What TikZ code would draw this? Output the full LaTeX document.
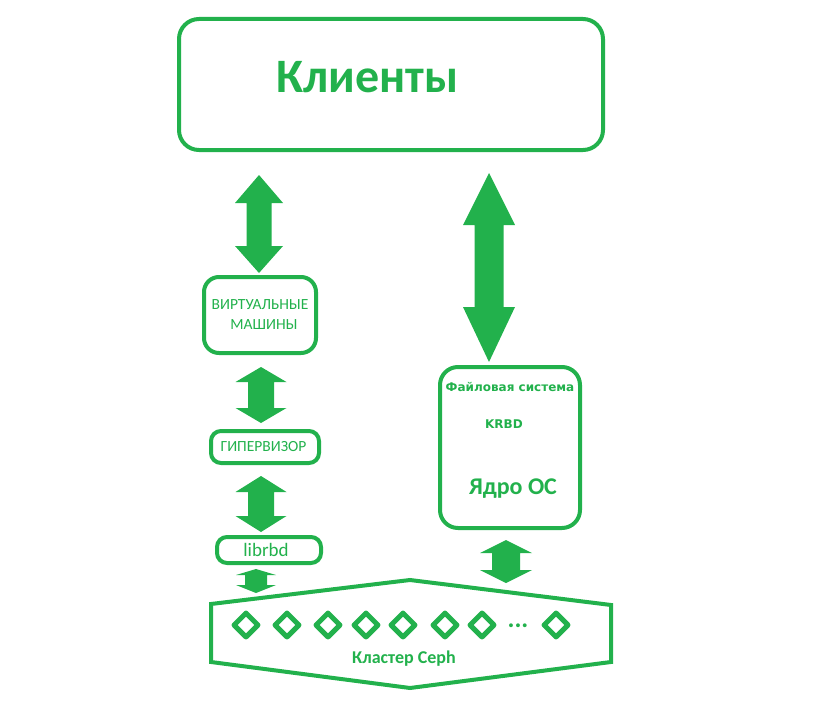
\documentclass[tikz,border=0pt]{standalone}
\usepackage{fontspec}
\setmainfont{Carlito}
\newfontfamily\dvs{DejaVu Sans}
\usetikzlibrary{shapes.geometric}
\definecolor{pg}{RGB}{34,177,76}
\newcommand\dblarrow[7]{% cx, ytop, yh1, yh2, ybot, half shaft, half head
  \fill[pg] (#1,#2) -- (#1+#7,#3) -- (#1+#6,#3) -- (#1+#6,#4) -- (#1+#7,#4) -- (#1,#5)
    -- (#1-#7,#4) -- (#1-#6,#4) -- (#1-#6,#3) -- (#1-#7,#3) -- cycle;}
\tikzset{
  box/.style={draw=pg, line width=4pt, rounded corners=#1, inner sep=0pt, text=pg},
  box/.default=12pt,
  lbl/.style={text=pg, inner sep=0pt},
  osd/.style={draw=pg, line width=5pt, diamond, aspect=1, minimum width=26pt, minimum height=26pt, inner sep=0pt, line join=round},
}
\begin{document}
\begin{tikzpicture}[x=1pt,y=-1pt]
\useasboundingbox (0,0) rectangle (823,717);
% boxes
\node[box=20pt, minimum width=424pt, minimum height=131pt] (cl) at (391,84.5) {};
\node[lbl, font=\fontsize{48}{48}\selectfont\bfseries] (clt) at (367.5,77) {Клиенты};
\node[box=15pt, minimum width=112pt, minimum height=76pt, align=center,
  font=\fontsize{15.5}{20}\selectfont] (vm) at (260,315) {ВИРТУАЛЬНЫЕ\\\hspace*{8pt}МАШИНЫ};
\node[box=10pt, minimum width=108pt, minimum height=32pt,
  font=\fontsize{15.5}{18}\selectfont] (hv) at (265,447) {\hspace*{-3pt}ГИПЕРВИЗОР};
\node[box=10pt, minimum width=104pt, minimum height=26pt,
  font=\fontsize{19}{20}\selectfont] (lr) at (269,550) {\hspace*{-6pt}librbd};
\node[box=18pt, minimum width=140pt, minimum height=161pt] (os) at (510,447.5) {};
\node[lbl, font=\dvs\fontsize{12}{12}\selectfont\bfseries] (fs) at (510,387) {Файловая система};
\node[lbl, font=\dvs\fontsize{12}{12}\selectfont\bfseries] (kr) at (504,424) {KRBD};
\node[lbl, font=\fontsize{24}{24}\selectfont\bfseries] (yd) at (513,489) {Ядро ОС};
% arrows
\dblarrow{259}{175}{203}{246}{273}{12.5}{24}
\dblarrow{261}{367}{382}{408}{423}{13}{25.5}
\dblarrow{261}{476}{492}{516}{532}{13}{25.5}
\dblarrow{256}{569}{575}{585}{593}{11}{20}
\dblarrow{489}{173}{225}{307}{362}{14.5}{26}
\dblarrow{506}{540}{553}{570}{583}{14}{26}
% cluster
\draw[pg, line width=4pt, line join=miter] (211,604) -- (410,580) -- (611,605) -- (611,662) -- (410,688) -- (211,662) -- cycle;
\foreach \i/\x in {1/246,2/287,3/328,4/366,5/403,6/445,7/482,8/556}
  \node[osd] (d\i) at (\x,625) {};
\node[lbl, font=\fontsize{26}{26}\selectfont\bfseries] (dots) at (518,626) {...};
\node[lbl, font=\fontsize{18}{18}\selectfont\bfseries] (ceph) at (404,659) {Кластер Ceph};
\end{tikzpicture}
\end{document}
